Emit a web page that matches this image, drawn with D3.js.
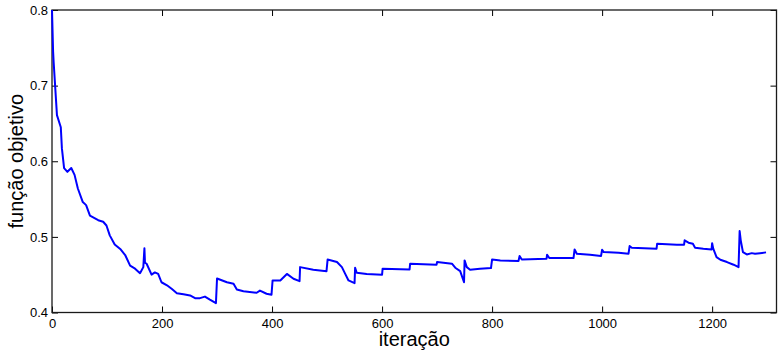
<!DOCTYPE html>
<html>
<head>
<meta charset="utf-8">
<script src="https://cdn.jsdelivr.net/npm/d3@7"></script>
<style>
  body { margin: 0; background: #fff; }
  svg text { font-family: "Liberation Sans", Arial, Helvetica, sans-serif; fill: #000; }
</style>
</head>
<body>
<div class="chart"></div>
<script>
// iteration / objective value pairs
const iterations = [
  0, 2, 3, 9, 16, 18, 22, 28, 35, 41, 47, 56, 62, 69, 84, 93, 99, 105, 114, 124,
  133, 142, 151, 160, 166, 168, 169, 172, 181, 187, 193, 199, 209, 218, 227, 239,
  251, 260, 269, 278, 287, 298, 300, 318, 330, 336, 348, 372, 378, 390, 399, 401,
  415, 427, 439, 450, 451, 475, 499, 501, 518, 527, 533, 539, 550, 551, 554, 572,
  600, 601, 650, 651, 699, 700, 727, 733, 742, 749, 750, 754, 760, 778, 798, 800,
  815, 848, 850, 854, 899, 900, 904, 948, 950, 954, 978, 998, 1000, 1003, 1030,
  1048, 1050, 1054, 1099, 1100, 1136, 1149, 1150, 1157, 1165, 1169, 1184, 1199,
  1200, 1202, 1208, 1215, 1227, 1239, 1248, 1250, 1252, 1256, 1263, 1272, 1278,
  1287, 1298
]
const objective = [
  0.800, 0.745, 0.731, 0.661, 0.645, 0.617, 0.591, 0.586, 0.591, 0.582, 0.564,
  0.546, 0.542, 0.528, 0.522, 0.520, 0.515, 0.502, 0.490, 0.484,
  0.476, 0.462, 0.458, 0.452, 0.460, 0.485, 0.466, 0.4645, 0.450, 0.453, 0.451,
  0.440, 0.436, 0.431, 0.4255, 0.424,
  0.4225, 0.419, 0.419, 0.421, 0.417, 0.4124, 0.445, 0.440, 0.438, 0.4305, 0.428,
  0.4261, 0.429, 0.4248, 0.4235, 0.4424,
  0.4424, 0.451, 0.4446, 0.4414, 0.460, 0.4566, 0.4547, 0.470, 0.4667, 0.460,
  0.451, 0.4424, 0.4388, 0.4592, 0.4526, 0.451,
  0.4499, 0.4579, 0.4570, 0.4645, 0.463, 0.4667, 0.4645, 0.4592, 0.4547, 0.440,
  0.4689, 0.460, 0.4566, 0.458, 0.4587, 0.4702,
  0.4689, 0.468, 0.4746, 0.470, 0.4711, 0.4764, 0.472, 0.472, 0.4834, 0.4778,
  0.4764, 0.4746, 0.483, 0.4799, 0.479,
  0.4778, 0.4878, 0.4857, 0.4844, 0.4909, 0.4896, 0.4896, 0.4954, 0.4923, 0.4909,
  0.4857, 0.4844, 0.4834,
  0.4917, 0.4844, 0.4733, 0.4698, 0.4667, 0.4632, 0.460, 0.5077, 0.4954, 0.4799,
  0.4768, 0.4785, 0.4778,
  0.4785, 0.4795
]
const xTicks = [0, 200, 400, 600, 800, 1000, 1200]
const yTicks = [0.4, 0.5, 0.6, 0.7, 0.8]
const xLabel = "iteração"
const yLabel = "função objetivo"

const init = () => {
  const width = 778
  const height = 353
  const margin = { top: 10, right: 1.5, bottom: 40.5, left: 52 }
  const xMax = 1317

  const dataset = iterations.map((it, i) => ({ it, val: objective[i] }))

  const svg = d3.select('.chart')
    .append('svg')
    .attr('width', width)
    .attr('height', height)

  // scales
  const xScale = d3.scaleLinear()
    .domain([0, xMax])
    .range([margin.left, width - margin.right])

  const yScale = d3.scaleLinear()
    .domain([0.4, 0.8])
    .range([height - margin.bottom, margin.top])

  const tick = 6

  // bottom axis, ticks pointing in
  svg.append('g')
    .attr('transform', `translate(0,${height - margin.bottom})`)
    .call(d3.axisBottom(xScale).tickValues(xTicks).tickSize(-tick).tickSizeOuter(0)
      .tickPadding(6).tickFormat(d3.format('d')))
    .call(g => g.select('.domain').remove())

  // top axis, ticks only
  svg.append('g')
    .attr('transform', `translate(0,${margin.top})`)
    .call(d3.axisTop(xScale).tickValues(xTicks).tickSize(-tick).tickFormat(''))
    .call(g => g.select('.domain').remove())

  // left axis
  svg.append('g')
    .attr('transform', `translate(${margin.left},0)`)
    .call(d3.axisLeft(yScale).tickValues(yTicks).tickSize(-tick).tickPadding(4).tickFormat(d3.format('.1f')))
    .call(g => g.select('.domain').remove())

  // right axis, ticks only
  svg.append('g')
    .attr('transform', `translate(${width - margin.right},0)`)
    .call(d3.axisRight(yScale).tickValues(yTicks).tickSize(-tick).tickFormat(''))
    .call(g => g.select('.domain').remove())

  svg.selectAll('.tick line').attr('stroke', '#000')
  svg.selectAll('.tick text').attr('font-size', 13).attr('font-family', null)

  // box
  svg.append('rect')
    .attr('x', margin.left)
    .attr('y', margin.top)
    .attr('width', width - margin.left - margin.right)
    .attr('height', height - margin.top - margin.bottom)
    .attr('fill', 'none')
    .attr('stroke', '#1a1a1a')
    .attr('stroke-width', 1.3)

  // curve
  const line = d3.line()
    .x(d => xScale(d.it))
    .y(d => yScale(d.val))

  svg.append('path')
    .datum(dataset)
    .attr('d', line)
    .attr('fill', 'none')
    .attr('stroke', '#0000ff')
    .attr('stroke-width', 2)
    .attr('stroke-linejoin', 'round')

  // axis labels
  svg.append('text')
    .text(xLabel)
    .attr('x', (margin.left + width - margin.right) / 2)
    .attr('y', 346)
    .attr('text-anchor', 'middle')
    .attr('font-size', 20)

  svg.append('text')
    .text(yLabel)
    .attr('transform', `translate(23,${(margin.top + height - margin.bottom) / 2}) rotate(-90)`)
    .attr('text-anchor', 'middle')
    .attr('font-size', 20)
}

init()
</script>
</body>
</html>
